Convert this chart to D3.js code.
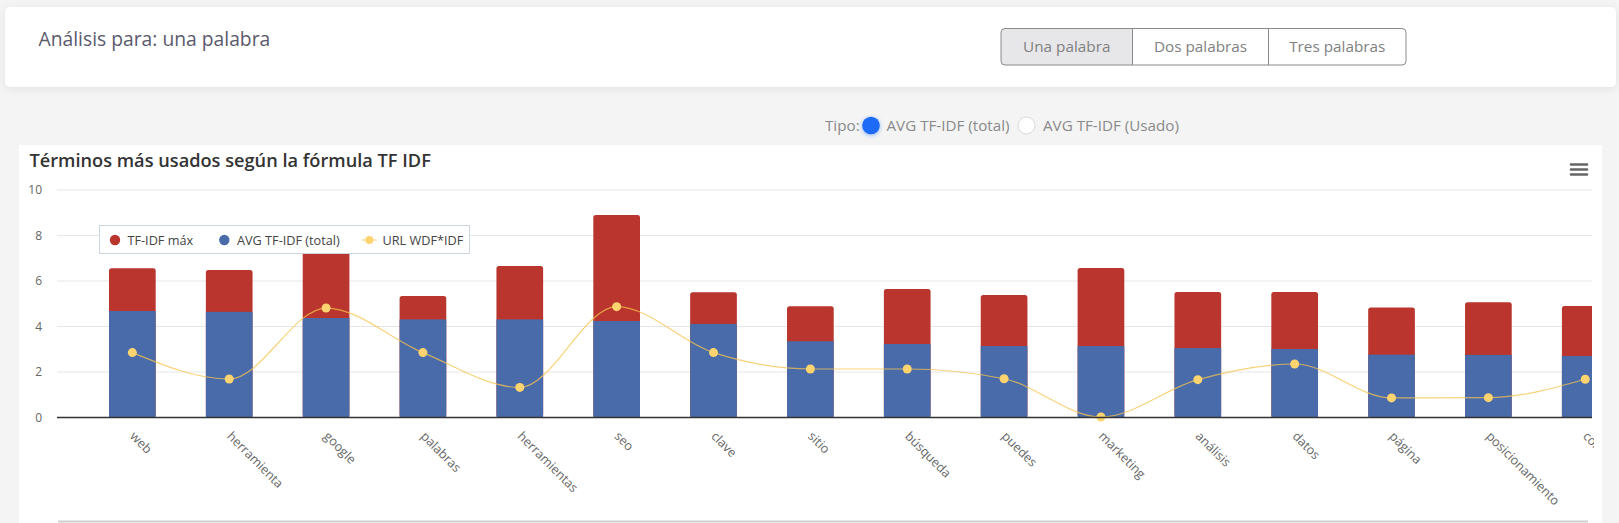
<!DOCTYPE html>
<html>
<head>
<meta charset="utf-8">
<script src="https://cdn.jsdelivr.net/npm/d3@7"></script>
<style>
  html, body { margin: 0; padding: 0; background: #f4f4f4; overflow: hidden; }
  svg { display: block; }
  text { font-family: 'Open Sans', sans-serif; }
</style>
</head>
<body>
<svg id="chart" width="1619" height="523"></svg>
<script>
// ---------- data ----------
const categories = ["web", "herramienta", "google", "palabras", "herramientas", "seo", "clave", "sitio",
  "búsqueda", "puedes", "marketing", "análisis", "datos", "página", "posicionamiento", "contenido"];
const tfidfMax = [6.54, 6.46, 7.8, 5.32, 6.64, 8.88, 5.48, 4.87, 5.63, 5.36, 6.55, 5.49, 5.49, 4.81, 5.04, 4.88];
const avgTfidf = [4.66, 4.62, 4.35, 4.29, 4.29, 4.22, 4.09, 3.33, 3.21, 3.12, 3.12, 3.03, 2.99, 2.74, 2.73, 2.68];
const urlWdfIdf = [2.83, 1.67, 4.79, 2.83, 1.30, 4.85, 2.83, 2.11, 2.11, 1.68, 0, 1.64, 2.33, 0.84, 0.85, 1.66];
const yTicks = [0, 2, 4, 6, 8, 10];
const seriesNames = ["TF-IDF máx", "AVG TF-IDF (total)", "URL WDF*IDF"];
const buttons = ["Una palabra", "Dos palabras", "Tres palabras"];
const radioLabels = ["AVG TF-IDF (total)", "AVG TF-IDF (Usado)"];

const RED = "#b9352d", BLUE = "#4a6ba9", YEL = "#fdd46f";

const svg = d3.select("#chart");
const defs = svg.append("defs");
const sh = defs.append("filter").attr("id", "shadow").attr("x", "-5%").attr("y", "-30%").attr("width", "110%").attr("height", "160%");
sh.append("feDropShadow").attr("dx", 0).attr("dy", 2).attr("stdDeviation", 4).attr("flood-color", "#000").attr("flood-opacity", 0.07);
const glow = defs.append("filter").attr("id", "glow").attr("x", "-60%").attr("y", "-60%").attr("width", "220%").attr("height", "220%");
glow.append("feDropShadow").attr("dx", 0).attr("dy", 1).attr("stdDeviation", 2).attr("flood-color", "#1a66ff").attr("flood-opacity", 0.45);

// ---------- header card ----------
svg.append("rect").attr("x", 5).attr("y", 7).attr("width", 1611).attr("height", 80).attr("rx", 5)
  .attr("fill", "#fff").attr("filter", "url(#shadow)");
svg.append("text").attr("x", 38.5).attr("y", 45.5).attr("font-size", 19.3).attr("fill", "#5a5a6c")
  .text("Análisis para: una palabra");

// button group
const btnX = [1001, 1132.5, 1268.5, 1406];
const bg = svg.append("g");
bg.append("path")
  .attr("d", `M${btnX[0]+4},28.5 H${btnX[1]} V65 H${btnX[0]+4} Q${btnX[0]},65 ${btnX[0]},61 V32.5 Q${btnX[0]},28.5 ${btnX[0]+4},28.5 Z`)
  .attr("fill", "#e7e7e9");
bg.append("rect").attr("x", btnX[0]).attr("y", 28.5).attr("width", btnX[3] - btnX[0]).attr("height", 36.5)
  .attr("rx", 4).attr("fill", "none").attr("stroke", "#8a8a8a").attr("stroke-width", 1);
[1, 2].forEach(i => bg.append("line").attr("x1", btnX[i]).attr("x2", btnX[i]).attr("y1", 28.5).attr("y2", 65)
  .attr("stroke", "#8a8a8a"));
buttons.forEach((b, i) => bg.append("text").attr("x", (btnX[i] + btnX[i+1]) / 2).attr("y", 52)
  .attr("text-anchor", "middle").attr("font-size", 15.3).attr("fill", "#808080").text(b));

// radio row
svg.append("text").attr("x", 825).attr("y", 131).attr("font-size", 15.2).attr("fill", "#8a8a8a").text("Tipo:");
svg.append("circle").attr("cx", 871).attr("cy", 125.5).attr("r", 8.8).attr("fill", "#1f6af5").attr("filter", "url(#glow)");
svg.append("text").attr("x", 886.5).attr("y", 131).attr("font-size", 15.2).attr("fill", "#8a8a8a").text(radioLabels[0]);
svg.append("circle").attr("cx", 1026.5).attr("cy", 125.5).attr("r", 8.5).attr("fill", "#fff").attr("stroke", "#d8d8d8");
svg.append("text").attr("x", 1043).attr("y", 131).attr("font-size", 15.2).attr("fill", "#8a8a8a").text(radioLabels[1]);

// ---------- chart card ----------
svg.append("rect").attr("x", 19).attr("y", 145).attr("width", 1583).attr("height", 400).attr("fill", "#fff");
svg.append("text").attr("x", 29.5).attr("y", 167).attr("font-size", 18.2).attr("font-weight", 600)
  .attr("fill", "#333").text("Términos más usados según la fórmula TF IDF");
// menu icon
[164.5, 169.5, 174.5].forEach(y => svg.append("line").attr("x1", 1571).attr("x2", 1587).attr("y1", y).attr("y2", y)
  .attr("stroke", "#666").attr("stroke-width", 2.6).attr("stroke-linecap", "round"));

const plotL = 57, plotR = 1592;
const y = d3.scaleLinear().domain([0, 10]).range([417, 189.5]);
const step = 96.86, firstCenter = 132.35;
const x = d3.scaleBand().domain(categories)
  .range([firstCenter - step / 2, firstCenter - step / 2 + step * categories.length])
  .paddingInner(0.518).paddingOuter(0.259);

defs.append("clipPath").attr("id", "plotclip").append("rect")
  .attr("x", plotL).attr("y", 150).attr("width", plotR - plotL).attr("height", 280);

// grid
svg.append("g").selectAll("line").data(yTicks.filter(t => t > 0)).join("line")
  .attr("x1", plotL).attr("x2", plotR).attr("y1", d => y(d) + 0.5).attr("y2", d => y(d) + 0.5)
  .attr("stroke", "#e6e6e6");

// y axis labels
const yAxis = d3.axisLeft(y).tickValues(yTicks).tickSize(0).tickPadding(0);
const yg = svg.append("g").attr("transform", `translate(42,0)`).call(yAxis);
yg.select(".domain").remove();
yg.selectAll("text").attr("font-size", 12).attr("fill", "#666").attr("font-family", "'Open Sans', sans-serif")
  .attr("dy", "0.35em");

const plot = svg.append("g").attr("clip-path", "url(#plotclip)");
// red bars (max)
plot.selectAll("rect.max").data(categories).join("rect").attr("class", "max")
  .attr("x", d => x(d)).attr("width", x.bandwidth())
  .attr("y", (d, i) => y(tfidfMax[i])).attr("height", (d, i) => y(0) - y(tfidfMax[i]))
  .attr("rx", 2.5).attr("fill", RED);
// blue bars (avg)
plot.selectAll("rect.avg").data(categories).join("rect").attr("class", "avg")
  .attr("x", d => x(d)).attr("width", x.bandwidth())
  .attr("y", (d, i) => y(avgTfidf[i])).attr("height", (d, i) => y(0) - y(avgTfidf[i]))
  .attr("fill", BLUE);

// x axis line
svg.append("line").attr("x1", plotL).attr("x2", plotR).attr("y1", y(0) + 0.5).attr("y2", y(0) + 0.5)
  .attr("stroke", "#333").attr("stroke-width", 1.3);

// spline
const line = d3.line().x((d, i) => x(categories[i]) + x.bandwidth() / 2).y(d => y(d)).curve(d3.curveMonotoneX);
plot.append("path").datum(urlWdfIdf).attr("d", line).attr("fill", "none")
  .attr("stroke", "#f7c44f").attr("stroke-opacity", 0.75).attr("stroke-width", 1.2);
plot.selectAll("circle.pt").data(urlWdfIdf).join("circle").attr("class", "pt")
  .attr("cx", (d, i) => x(categories[i]) + x.bandwidth() / 2).attr("cy", d => y(d))
  .attr("r", 4.5).attr("fill", YEL);

// x labels
defs.append("clipPath").attr("id", "labelclip").append("rect").attr("x", 19).attr("y", 418).attr("width", 1575).attr("height", 100);
const xl = svg.append("g").attr("clip-path", "url(#labelclip)");
xl.selectAll("text").data(categories).join("text")
  .attr("transform", d => `translate(${x(d) + x.bandwidth() / 2 - 3},${437}) rotate(45)`)
  .attr("font-size", 12.6).attr("fill", "#666").text(d => d);

// bottom scrollbar-ish line
svg.append("line").attr("x1", 58).attr("x2", 1588).attr("y1", 521.5).attr("y2", 521.5)
  .attr("stroke", "#cfcfcf").attr("stroke-width", 2);

// legend
const lg = svg.append("g");
lg.append("rect").attr("x", 99.5).attr("y", 225.5).attr("width", 370).attr("height", 28)
  .attr("fill", "#fff").attr("stroke", "#ccd6e0");
const legX = [115, 224.3, 369.3];
const legTX = [127.5, 237, 382.5];
const legC = [RED, BLUE, YEL];
seriesNames.forEach((n, i) => {
  if (i < 2) {
    lg.append("circle").attr("cx", legX[i]).attr("cy", 240).attr("r", 5.2).attr("fill", legC[i]);
  } else {
    lg.append("line").attr("x1", legX[i] - 7.5).attr("x2", legX[i] + 7.5).attr("y1", 240).attr("y2", 240)
      .attr("stroke", "#f7c44f").attr("stroke-opacity", 0.75).attr("stroke-width", 1.2);
    lg.append("circle").attr("cx", legX[i]).attr("cy", 240).attr("r", 4).attr("fill", YEL);
  }
  lg.append("text").attr("x", legTX[i]).attr("y", 244.5).attr("font-size", 12.7).attr("fill", "#444").text(n);
});
</script>
</body>
</html>
